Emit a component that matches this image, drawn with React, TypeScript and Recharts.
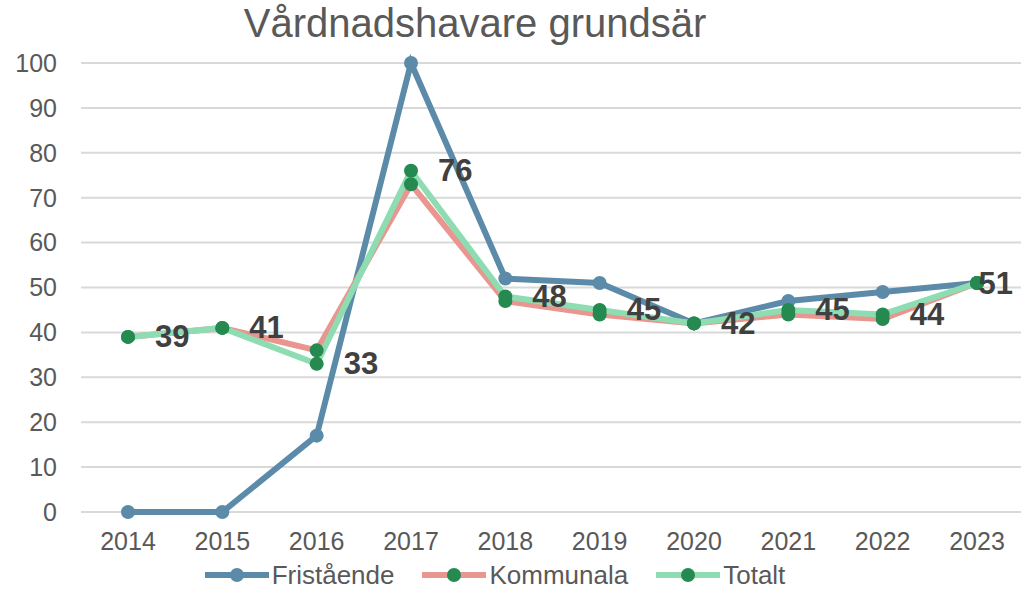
import { LineChart, Line, XAxis, YAxis, CartesianGrid, Legend, LabelList } from 'recharts';

const years = ['2014', '2015', '2016', '2017', '2018', '2019', '2020', '2021', '2022', '2023'];
const fristaende = [0, 0, 17, 100, 52, 51, 42, 47, 49, 51];
const kommunala = [39, 41, 36, 73, 47, 44, 42, 44, 43, 51];
const totalt = [39, 41, 33, 76, 48, 45, 42, 45, 44, 51];
const yTicks = [0, 10, 20, 30, 40, 50, 60, 70, 80, 90, 100];

const data = years.map((year, i) => ({
  year,
  Fristående: fristaende[i],
  Kommunala: kommunala[i],
  Totalt: totalt[i],
}));

const FONT = '"Liberation Sans", Arial, sans-serif';
const GREY = '#595959';
const BLUE = '#5B8BA8';
const SALMON = '#E8968F';
const MINT = '#8EDDB2';
const DOT_GREEN = '#248A50';
const LABEL_SIZE = 31;

// dataetiketter till höger om punkten, skjuts in om de hamnar utanför bilden
const renderLabel = (props: any) => {
  const { x, y, value } = props;
  const w = String(value).length * 0.556 * LABEL_SIZE;
  let lx = x + 27;
  if (lx + w > 1013) lx = 1013 - w;
  return (
    <text
      x={lx}
      y={y}
      dominantBaseline="central"
      fontFamily={FONT}
      fontSize={LABEL_SIZE}
      fontWeight="bold"
      fill="#404040"
    >
      {value}
    </text>
  );
};

const legendItems = [
  { name: 'Fristående', line: BLUE, dot: BLUE },
  { name: 'Kommunala', line: SALMON, dot: DOT_GREEN },
  { name: 'Totalt', line: MINT, dot: DOT_GREEN },
];

const renderLegend = () => (
  <div style={{ display: 'flex', justifyContent: 'center', alignItems: 'center', height: 30, gap: 28 }}>
    {legendItems.map((it) => (
      <div key={it.name} style={{ display: 'flex', alignItems: 'center' }}>
        <svg width={64} height={16}>
          <line x1={0} y1={8} x2={64} y2={8} stroke={it.line} strokeWidth={6} strokeLinecap="round" />
          <circle cx={32} cy={8} r={7} fill={it.dot} />
        </svg>
        <span style={{ marginLeft: 3, fontFamily: FONT, fontSize: 26, color: GREY }}>{it.name}</span>
      </div>
    ))}
  </div>
);

export default function App() {
  return (
    <div style={{ position: 'fixed', left: 0, top: 0, width: 1021, height: 590, overflow: 'hidden', background: '#fff' }}>
      <div
        style={{
          position: 'absolute',
          left: 0,
          width: 950,
          top: 3,
          textAlign: 'center',
          fontFamily: FONT,
          fontSize: 40,
          lineHeight: 1,
          color: GREY,
          zIndex: 1,
        }}
      >
        Vårdnadshavare grundsär
      </div>
      <LineChart width={1024} height={590} data={data} margin={{ top: 63, right: 0, bottom: 0, left: 0 }}>
        <CartesianGrid vertical={false} stroke="#D9D9D9" strokeWidth={2} />
        <XAxis
          dataKey="year"
          axisLine={false}
          tickLine={false}
          tickSize={0}
          tickMargin={20}
          height={48}
          padding={{ left: 47, right: 47 }}
          tick={{ fill: GREY, fontSize: 25, fontFamily: FONT }}
        />
        <YAxis
          domain={[0, 100]}
          ticks={yTicks}
          width={81}
          axisLine={false}
          tickLine={false}
          tickSize={0}
          tickMargin={24}
          tick={{ fill: GREY, fontSize: 25, fontFamily: FONT }}
        />
        <Legend
          verticalAlign="bottom"
          content={renderLegend}
          wrapperStyle={{ left: 0, width: 990, bottom: 0 }}
        />
        <Line
          dataKey="Fristående"
          stroke={BLUE}
          strokeWidth={6}
          dot={{ r: 7, fill: BLUE, stroke: 'none' }}
          isAnimationActive={false}
        />
        <Line
          dataKey="Kommunala"
          stroke={SALMON}
          strokeWidth={6}
          dot={{ r: 7, fill: DOT_GREEN, stroke: 'none' }}
          isAnimationActive={false}
        />
        <Line
          dataKey="Totalt"
          stroke={MINT}
          strokeWidth={6}
          dot={{ r: 7, fill: DOT_GREEN, stroke: 'none' }}
          isAnimationActive={false}
        >
          <LabelList dataKey="Totalt" content={renderLabel} />
        </Line>
      </LineChart>
    </div>
  );
}
